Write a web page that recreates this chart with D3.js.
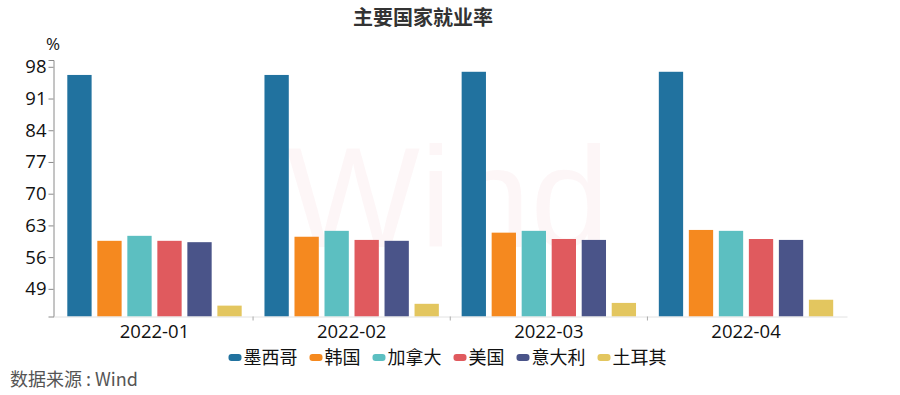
<!DOCTYPE html>
<html>
<head>
<meta charset="utf-8">
<script src="https://cdn.jsdelivr.net/npm/d3@7"></script>
<style>
  body { margin: 0; background: #fff; }
  text { font-family: "Noto Sans CJK SC", "Noto Sans", sans-serif; }
</style>
</head>
<body>
<div id="chart"></div>
<script>
// data
var months = ["2022-01", "2022-02", "2022-03", "2022-04"];
var countries = ["墨西哥", "韩国", "加拿大", "美国", "意大利", "土耳其"];
var mexico = [96.2, 96.2, 96.9, 96.9];
var korea = [59.6, 60.5, 61.4, 62.0];
var canada = [60.7, 61.8, 61.8, 61.8];
var usa = [59.6, 59.8, 60.0, 60.0];
var italy = [59.3, 59.6, 59.8, 59.8];
var turkey = [45.3, 45.7, 45.9, 46.6];
var yTicks = [49, 56, 63, 70, 77, 84, 91, 98];
var colors = ["#21729f", "#f5891f", "#5cbfc1", "#e05a5e", "#4a5489", "#e3c65f"];

var seriesValues = [mexico, korea, canada, usa, italy, turkey];

var width = 900;
var height = 395;
var plotLeft = 53.5;
var plotRight = 847;
var plotTop = 60;
var plotBottom = 316.5;

var svg = d3
  .select("#chart")
  .append("svg")
  .attr("width", width)
  .attr("height", height);

// title
svg.append("text")
  .attr("x", 423)
  .attr("y", 25)
  .attr("text-anchor", "middle")
  .attr("font-size", 20)
  .attr("font-weight", "bold")
  .attr("fill", "#333")
  .text("主要国家就业率");

// watermark
svg.append("text")
  .attr("x", 286)
  .attr("y", 247)
  .attr("font-size", 142)
  .attr("fill", "#d2304f")
  .attr("fill-opacity", 0.045)
  .style("font-family", "'Liberation Sans', Arial, sans-serif")
  .text("Wind");

var x0 = d3.scaleBand()
  .domain(months)
  .range([plotLeft, plotRight])
  .paddingInner(0.1156)
  .paddingOuter(0.07);

var x1 = d3.scaleBand()
  .domain(countries)
  .range([0, x0.bandwidth()])
  .paddingInner(0.19)
  .paddingOuter(0);

var y = d3.scaleLinear()
  .domain([42.9, 99.5])
  .range([plotBottom, plotTop]);

// bars
var rows = months.map(function(m, i) {
  return countries.map(function(c, j) {
    return { month: m, country: c, value: seriesValues[j][i], color: colors[j] };
  });
});

var groups = svg.selectAll("g.month")
  .data(rows)
  .enter()
  .append("g")
  .attr("class", "month")
  .attr("transform", function(d, i) {
    return "translate(" + x0(months[i]) + ",0)";
  });

groups.selectAll("rect")
  .data(function(d) { return d; })
  .enter()
  .append("rect")
  .attr("x", function(d) { return x1(d.country); })
  .attr("y", function(d) { return y(d.value); })
  .attr("width", x1.bandwidth())
  .attr("height", function(d) { return plotBottom - y(d.value); })
  .attr("fill", function(d) { return d.color; });

// y axis
var yAxis = d3.axisLeft(y).tickValues(yTicks).tickSize(5).tickPadding(2);
var yG = svg.append("g")
  .attr("transform", "translate(" + plotLeft + ",0)")
  .call(yAxis);
yG.select(".domain").attr("stroke", "#8a8a8a");
yG.selectAll(".tick line").attr("stroke", "#8a8a8a");
yG.selectAll(".tick text")
  .attr("font-size", 18.5)
  .attr("fill", "#111")
  .style("font-family", "'Open Sans', sans-serif");

svg.append("text")
  .attr("x", 53)
  .attr("y", 50)
  .attr("text-anchor", "middle")
  .attr("font-size", 17)
  .attr("fill", "#111")
  .style("font-family", "'Open Sans', sans-serif")
  .text("%");

// x axis
var xAxis = d3.axisBottom(x0).tickSize(0).tickPadding(8);
var xG = svg.append("g")
  .attr("transform", "translate(0," + plotBottom + ")")
  .call(xAxis);
xG.select(".domain").attr("stroke", "#e2e2e2");
xG.selectAll(".tick text")
  .attr("font-size", 18.5)
  .attr("fill", "#111")
  .style("font-family", "'Open Sans', sans-serif");

// small ticks between the groups
svg.selectAll("line.sep")
  .data(months.slice(1))
  .enter()
  .append("line")
  .attr("class", "sep")
  .attr("x1", function(d) { return x0(d) - x0.step() * x0.paddingInner() / 2; })
  .attr("x2", function(d) { return x0(d) - x0.step() * x0.paddingInner() / 2; })
  .attr("y1", plotBottom)
  .attr("y2", plotBottom + 4)
  .attr("stroke", "#aaa");

// legend
var legend = svg.append("g").attr("class", "legend");
var lx = 0;
countries.forEach(function(c, j) {
  var item = legend.append("g").attr("transform", "translate(" + lx + ",0)");
  item.append("rect")
    .attr("x", 0)
    .attr("y", -3)
    .attr("width", 13)
    .attr("height", 7)
    .attr("rx", 3)
    .attr("fill", colors[j]);
  var t = item.append("text")
    .attr("x", 15)
    .attr("y", 6.5)
    .attr("font-size", 18)
    .attr("fill", "#111")
    .text(c);
  lx += 15 + t.node().getComputedTextLength() + 12;
});
lx -= 12;
legend.attr("transform", "translate(" + (447.5 - lx / 2) + ",357)");

// source
svg.append("text")
  .attr("x", 10)
  .attr("y", 386)
  .attr("font-size", 18)
  .attr("fill", "#555")
  .text("数据来源 : Wind");
</script>
</body>
</html>
